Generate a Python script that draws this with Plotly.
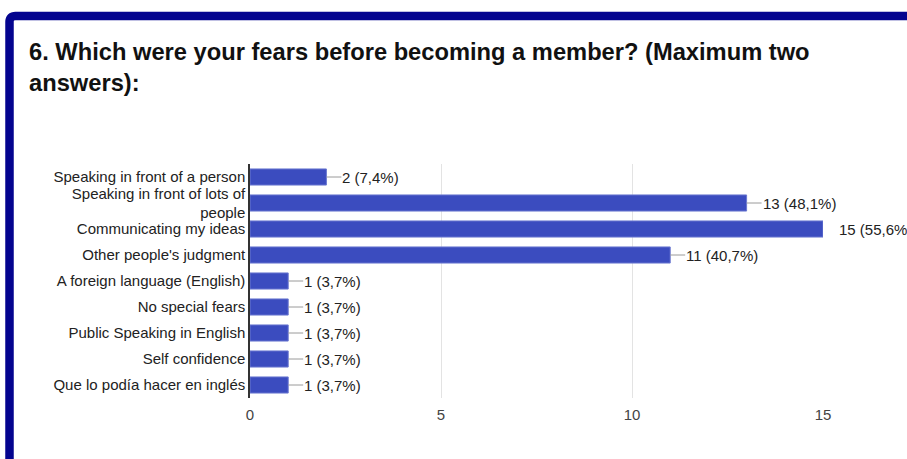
import plotly.graph_objects as go

# Survey answers: fears before becoming a member
categories = [
    "Speaking in front of a person",
    "Speaking in front of lots of<br>people",
    "Communicating my ideas",
    "Other people's judgment",
    "A foreign language (English)",
    "No special fears",
    "Public Speaking in English",
    "Self confidence",
    "Que lo podía hacer en inglés",
]
counts = [2, 13, 15, 11, 1, 1, 1, 1, 1]
percents = ["7,4%", "48,1%", "55,6%", "40,7%", "3,7%", "3,7%", "3,7%", "3,7%", "3,7%"]
x_ticks = [0, 5, 10, 15]

W, H = 907, 459
L, R, T, B = 250, 84, 164, 61
pw, ph = W - L - R, H - T - B

def px_x(p):
    return (p - L) / pw

def px_y(p):
    return (H - B - p) / ph

BAR = "#3b4cbf"
TEXT = "#222222"
FONT = "Liberation Sans, Arial"

fig = go.Figure(
    go.Bar(
        x=counts,
        y=categories,
        orientation="h",
        marker=dict(color=BAR, line=dict(color="#6a78d0", width=1)),
        width=0.62,
        hoverinfo="skip",
    )
)

vmax = max(counts)
annotations = []
for cat, c, pct in zip(categories, counts, percents):
    annotations.append(dict(
        x=c, y=cat, xref="x", yref="y",
        text=f"{c} ({pct})",
        showarrow=True, arrowhead=0, arrowwidth=1,
        arrowcolor="#9a9a9a" if c < vmax else "rgba(0,0,0,0)",
        ax=15, ay=0, xanchor="left", yanchor="middle",
        font=dict(family=FONT, size=15, color=TEXT),
        borderpad=0,
    ))

# Dark blue card frame with a rounded top-left corner
x0, y0, r = 9.5, 16.0, 6.0
frame_path = (
    f"M {px_x(x0)},{px_y(480)} L {px_x(x0)},{px_y(y0 + r)} "
    f"Q {px_x(x0)},{px_y(y0)} {px_x(x0 + r)},{px_y(y0)} "
    f"L {px_x(930)},{px_y(y0)}"
)
shapes = [dict(
    type="path", path=frame_path, xref="paper", yref="paper",
    line=dict(color="#04048f", width=8.5), layer="above",
)]

fig.update_layout(
    width=W, height=H,
    margin=dict(l=L, r=R, t=T, b=B),
    paper_bgcolor="white", plot_bgcolor="white",
    showlegend=False,
    title=dict(
        text="6. Which were your fears before becoming a member? (Maximum two<br>answers):",
        xref="container", yref="container",
        x=29 / W, y=1 - 60 / H, xanchor="left", yanchor="top",
        font=dict(family=FONT, size=23.7, color="#111111", weight="bold"),
    ),
    xaxis=dict(
        range=[0, 15], tickvals=x_ticks, ticktext=[str(v) for v in x_ticks],
        showgrid=True, gridcolor="#e3e3e3", gridwidth=1,
        zeroline=False, showline=False,
        tickfont=dict(family=FONT, size=15, color="#444444"),
        ticks="", ticklen=0, ticklabelstandoff=6,
        fixedrange=True,
    ),
    yaxis=dict(
        autorange="reversed",
        showgrid=False, zeroline=False,
        showline=True, linecolor="#333333", linewidth=1.5,
        tickfont=dict(family=FONT, size=15, color=TEXT),
        ticks="", ticklabelstandoff=0,
        fixedrange=True,
    ),
    annotations=annotations,
    shapes=shapes,
)

fig.write_html("out.html")
